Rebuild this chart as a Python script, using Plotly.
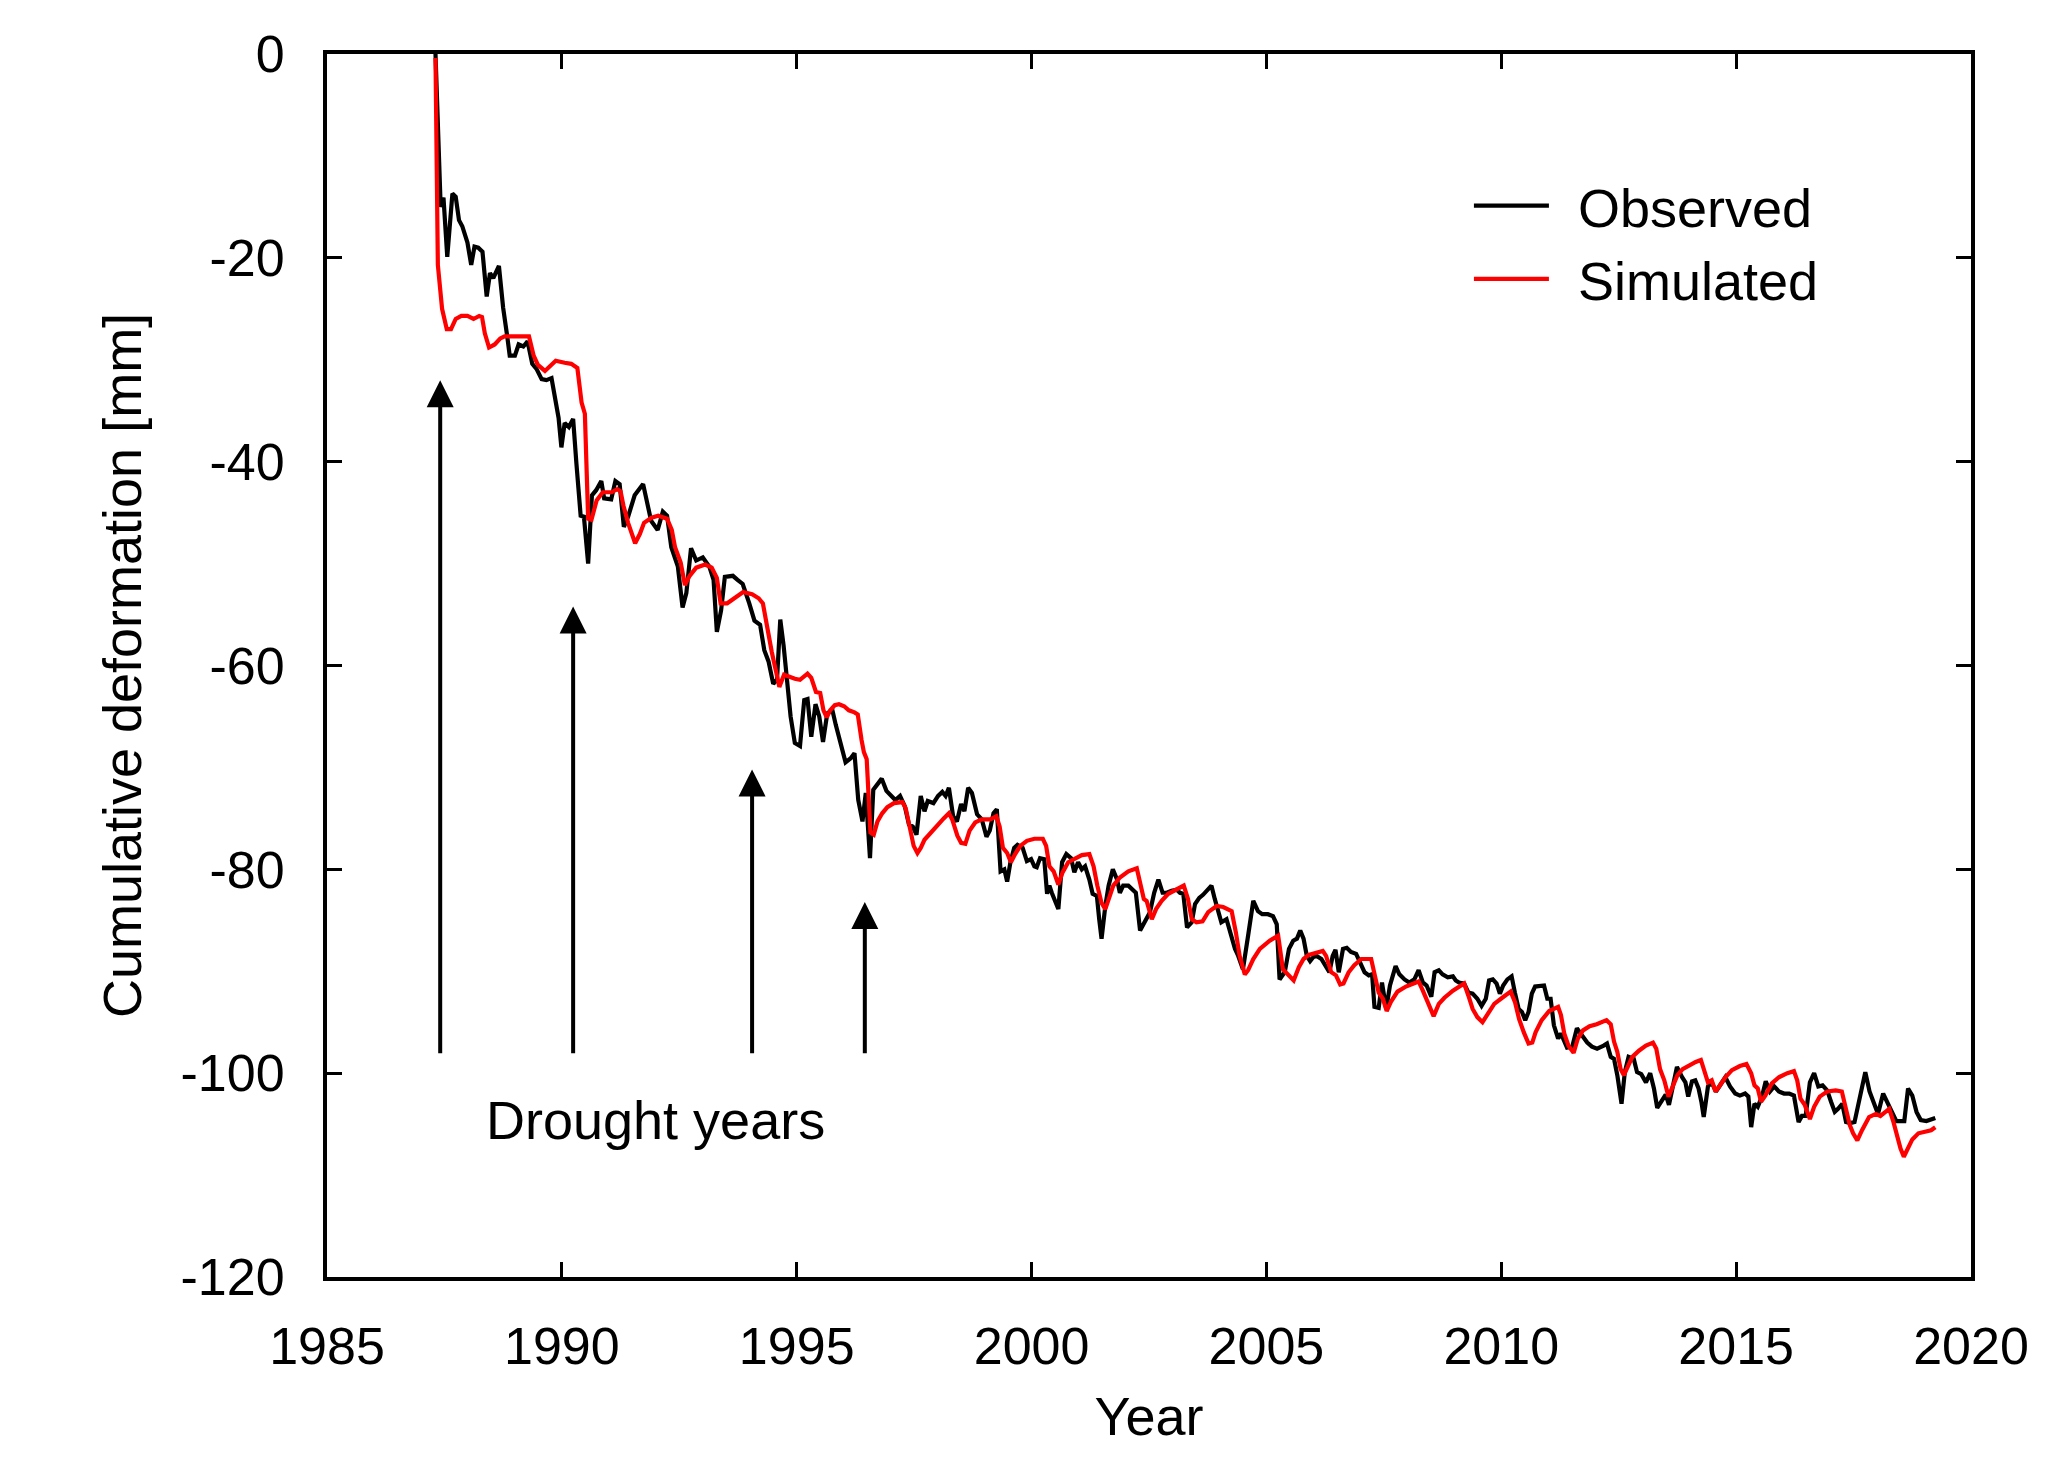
import plotly.graph_objects as go

# ---------------- data ----------------
obs_year = [1987.31, 1987.42, 1987.48, 1987.56, 1987.67, 1987.74, 1987.81, 1987.88, 1987.99, 1988.07,
            1988.14, 1988.22, 1988.31, 1988.40, 1988.47, 1988.54, 1988.66, 1988.75, 1988.84, 1988.89,
            1989.00, 1989.08, 1989.18, 1989.27, 1989.37, 1989.46, 1989.57, 1989.67, 1989.78, 1989.85,
            1989.93, 1989.99, 1990.06, 1990.15, 1990.24, 1990.31, 1990.40, 1990.47, 1990.56, 1990.64,
            1990.73, 1990.84, 1990.90, 1991.05, 1991.14, 1991.23, 1991.32, 1991.41, 1991.55, 1991.73,
            1991.90, 1992.04, 1992.15, 1992.24, 1992.33, 1992.47, 1992.57, 1992.65, 1992.75, 1992.86,
            1993.00, 1993.14, 1993.23, 1993.30, 1993.39, 1993.47, 1993.64, 1993.74, 1993.85, 1993.99,
            1994.10, 1994.22, 1994.31, 1994.40, 1994.50, 1994.58, 1994.65, 1994.72, 1994.80, 1994.87,
            1994.96, 1995.07, 1995.16, 1995.23, 1995.31, 1995.40, 1995.48, 1995.56, 1995.65, 1995.76,
            1995.83, 1995.94, 1996.04, 1996.15, 1996.23, 1996.31, 1996.40, 1996.47, 1996.56, 1996.63,
            1996.72, 1996.81, 1996.91, 1997.00, 1997.10, 1997.20, 1997.30, 1997.39, 1997.47, 1997.55,
            1997.64, 1997.72, 1997.79, 1997.91, 1998.01, 1998.10, 1998.17, 1998.24, 1998.33, 1998.41,
            1998.50, 1998.57, 1998.65, 1998.73, 1998.84, 1998.94, 1999.04, 1999.11, 1999.19, 1999.26,
            1999.34, 1999.42, 1999.48, 1999.55, 1999.63, 1999.70, 1999.81, 1999.90, 1999.99, 2000.06,
            2000.11, 2000.18, 2000.27, 2000.33, 2000.38, 2000.43, 2000.50, 2000.57, 2000.65, 2000.74,
            2000.84, 2000.91, 2000.99, 2001.07, 2001.14, 2001.23, 2001.30, 2001.39, 2001.44, 2001.49,
            2001.57, 2001.64, 2001.73, 2001.82, 2001.88, 2001.95, 2002.06, 2002.15, 2002.22, 2002.31,
            2002.41, 2002.52, 2002.61, 2002.70, 2002.79, 2002.88, 2002.98, 2003.09, 2003.16, 2003.23,
            2003.31, 2003.41, 2003.48, 2003.57, 2003.65, 2003.74, 2003.83, 2003.90, 2003.99, 2004.04,
            2004.15, 2004.23, 2004.33, 2004.40, 2004.50, 2004.61, 2004.72, 2004.82, 2004.91, 2005.03,
            2005.14, 2005.22, 2005.28, 2005.39, 2005.48, 2005.57, 2005.65, 2005.72, 2005.79, 2005.86,
            2005.93, 2006.00, 2006.07, 2006.17, 2006.26, 2006.34, 2006.41, 2006.47, 2006.54, 2006.63,
            2006.71, 2006.80, 2006.91, 2006.99, 2007.09, 2007.18, 2007.25, 2007.30, 2007.39, 2007.46,
            2007.55, 2007.63, 2007.75, 2007.83, 2007.94, 2008.04, 2008.15, 2008.24, 2008.33, 2008.41,
            2008.51, 2008.58, 2008.67, 2008.75, 2008.86, 2008.97, 2009.03, 2009.10, 2009.21, 2009.30,
            2009.39, 2009.49, 2009.58, 2009.67, 2009.74, 2009.82, 2009.90, 2009.97, 2010.04, 2010.13,
            2010.22, 2010.29, 2010.37, 2010.44, 2010.51, 2010.58, 2010.65, 2010.72, 2010.80, 2010.91,
            2010.98, 2011.05, 2011.12, 2011.21, 2011.27, 2011.40, 2011.51, 2011.61, 2011.72, 2011.83,
            2011.93, 2012.04, 2012.18, 2012.25, 2012.33, 2012.40, 2012.47, 2012.56, 2012.63, 2012.71,
            2012.82, 2012.89, 2012.98, 2013.08, 2013.17, 2013.25, 2013.32, 2013.42, 2013.50, 2013.57,
            2013.65, 2013.74, 2013.85, 2013.92, 2013.98, 2014.06, 2014.13, 2014.20, 2014.26, 2014.31,
            2014.40, 2014.48, 2014.57, 2014.66, 2014.77, 2014.87, 2014.98, 2015.08, 2015.19, 2015.26,
            2015.32, 2015.39, 2015.46, 2015.55, 2015.63, 2015.72, 2015.81, 2015.91, 2016.02, 2016.13,
            2016.23, 2016.33, 2016.40, 2016.48, 2016.57, 2016.66, 2016.75, 2016.84, 2016.94, 2017.02,
            2017.10, 2017.17, 2017.26, 2017.34, 2017.43, 2017.52, 2017.62, 2017.75, 2017.84, 2017.93,
            2018.02, 2018.13, 2018.22, 2018.31, 2018.41, 2018.52, 2018.58, 2018.66, 2018.75, 2018.84,
            2018.93, 2019.05, 2019.15, 2019.24]
obs_val = [0.0, -15.0, -14.1, -19.9, -13.7, -14.0, -16.3, -16.9, -18.5, -20.7,
           -18.9, -19.0, -19.4, -23.8, -21.5, -22.0, -20.8, -24.9, -27.8, -29.6,
           -29.6, -28.5, -28.7, -28.2, -30.4, -30.9, -31.9, -32.0, -31.8, -33.4,
           -35.7, -38.6, -36.2, -36.6, -35.8, -40.2, -45.3, -45.4, -50.0, -43.3,
           -42.8, -41.9, -43.6, -43.7, -41.9, -42.2, -46.4, -45.4, -43.3, -42.2,
           -45.8, -46.7, -44.9, -45.3, -48.4, -50.3, -54.3, -52.9, -48.5, -49.7,
           -49.4, -50.3, -51.6, -56.7, -54.6, -51.3, -51.2, -51.6, -52.0, -53.9,
           -55.6, -56.0, -58.5, -59.6, -61.8, -61.4, -55.5, -58.0, -62.1, -65.0,
           -67.6, -67.9, -63.4, -63.3, -67.0, -63.8, -65.0, -67.5, -64.7, -64.4,
           -65.8, -67.9, -69.5, -69.1, -68.6, -73.2, -75.3, -72.5, -78.9, -72.2,
           -71.7, -71.1, -72.3, -72.8, -73.2, -72.8, -73.8, -75.6, -75.8, -76.6,
           -72.8, -74.3, -73.3, -73.5, -72.8, -72.4, -72.8, -72.0, -74.8, -75.3,
           -73.6, -74.3, -72.0, -72.5, -74.6, -75.1, -76.8, -76.2, -74.5, -74.1,
           -80.2, -80.0, -81.2, -79.3, -77.9, -77.6, -77.9, -79.2, -79.0, -79.7,
           -79.8, -78.9, -79.0, -82.4, -81.6, -82.3, -83.1, -83.9, -79.3, -78.5,
           -78.9, -80.3, -79.3, -80.0, -79.7, -81.0, -82.4, -82.6, -84.9, -86.8,
           -83.6, -81.6, -80.0, -81.0, -82.3, -81.6, -81.6, -82.0, -82.3, -86.0,
           -85.1, -84.2, -82.3, -81.0, -82.3, -82.3, -82.1, -82.0, -82.3, -82.4,
           -85.7, -85.2, -83.4, -82.8, -82.5, -82.0, -81.6, -82.9, -84.4, -85.2,
           -84.9, -86.2, -87.8, -88.5, -89.8, -86.5, -83.1, -84.1, -84.4, -84.4,
           -84.6, -85.4, -90.8, -90.1, -87.8, -87.0, -86.8, -86.0, -86.8, -88.5,
           -89.0, -88.6, -88.5, -88.8, -89.6, -90.1, -88.5, -87.9, -90.1, -87.8,
           -87.7, -88.1, -88.3, -89.1, -90.1, -90.4, -90.3, -93.5, -93.6, -91.1,
           -93.7, -91.4, -89.5, -90.3, -90.8, -91.1, -90.8, -89.9, -91.1, -91.4,
           -92.5, -90.1, -89.9, -90.3, -90.6, -90.5, -90.9, -91.1, -91.2, -92.1,
           -92.2, -92.7, -93.4, -92.7, -90.9, -90.8, -91.2, -92.2, -91.4, -90.8,
           -90.5, -92.1, -93.7, -94.0, -94.8, -94.0, -92.2, -91.5, -91.5, -91.4,
           -92.7, -92.7, -95.3, -96.6, -96.1, -97.5, -97.4, -95.6, -96.3, -97.0,
           -97.4, -97.6, -97.3, -97.1, -98.4, -98.6, -100.2, -103.0, -99.9, -98.4,
           -98.6, -99.9, -100.1, -100.9, -100.0, -101.5, -103.4, -102.7, -102.1, -103.1,
           -101.2, -99.4, -100.4, -100.9, -102.3, -100.8, -100.7, -101.5, -102.8, -104.3,
           -101.3, -100.9, -101.8, -101.2, -100.4, -101.3, -102.0, -102.2, -102.0, -102.3,
           -105.3, -103.0, -103.3, -102.3, -100.8, -101.8, -101.3, -101.8, -102.0, -102.0,
           -102.2, -104.8, -104.2, -104.2, -100.9, -100.0, -101.3, -101.2, -101.7, -102.8,
           -103.8, -103.5, -103.0, -104.8, -104.9, -104.8, -102.5, -99.9, -101.8, -103.0,
           -104.0, -102.0, -102.8, -103.8, -104.7, -104.7, -104.7, -101.5, -102.2, -103.8,
           -104.6, -104.7, -104.5, -104.4]

sim_year = [1987.31, 1987.36, 1987.45, 1987.55, 1987.64, 1987.74, 1987.86, 1987.99, 1988.12, 1988.24,
            1988.30, 1988.36, 1988.45, 1988.57, 1988.69, 1988.78, 1989.02, 1989.30, 1989.40, 1989.49,
            1989.64, 1989.78, 1989.87, 1990.06, 1990.20, 1990.33, 1990.42, 1990.49, 1990.56, 1990.63,
            1990.74, 1990.87, 1991.06, 1991.18, 1991.25, 1991.31, 1991.41, 1991.56, 1991.66, 1991.75,
            1991.91, 1992.05, 1992.24, 1992.34, 1992.41, 1992.53, 1992.62, 1992.72, 1992.86, 1993.05,
            1993.19, 1993.30, 1993.38, 1993.52, 1993.66, 1993.86, 1994.05, 1994.19, 1994.28, 1994.38,
            1994.47, 1994.57, 1994.63, 1994.73, 1994.84, 1994.96, 1995.07, 1995.16, 1995.23, 1995.31,
            1995.41, 1995.50, 1995.57, 1995.64, 1995.71, 1995.81, 1995.90, 1996.01, 1996.11, 1996.23,
            1996.30, 1996.38, 1996.43, 1996.49, 1996.54, 1996.57, 1996.64, 1996.72, 1996.82, 1996.93,
            1997.07, 1997.25, 1997.32, 1997.41, 1997.49, 1997.57, 1997.64, 1997.72, 1997.85, 1997.99,
            1998.13, 1998.24, 1998.31, 1998.42, 1998.50, 1998.59, 1998.68, 1998.80, 1998.94, 1999.12,
            1999.25, 1999.32, 1999.39, 1999.48, 1999.56, 1999.65, 1999.76, 1999.90, 2000.06, 2000.24,
            2000.31, 2000.38, 2000.47, 2000.57, 2000.66, 2000.78, 2000.93, 2001.07, 2001.23, 2001.32,
            2001.40, 2001.49, 2001.57, 2001.64, 2001.74, 2001.88, 2002.06, 2002.24, 2002.31, 2002.39,
            2002.45, 2002.56, 2002.65, 2002.77, 2002.91, 2003.09, 2003.24, 2003.33, 2003.41, 2003.51,
            2003.64, 2003.76, 2003.94, 2004.08, 2004.26, 2004.35, 2004.43, 2004.54, 2004.61, 2004.72,
            2004.86, 2005.07, 2005.25, 2005.35, 2005.46, 2005.58, 2005.69, 2005.79, 2005.90, 2006.06,
            2006.20, 2006.27, 2006.38, 2006.48, 2006.57, 2006.64, 2006.75, 2006.87, 2007.02, 2007.23,
            2007.30, 2007.39, 2007.48, 2007.56, 2007.65, 2007.79, 2007.97, 2008.24, 2008.33, 2008.44,
            2008.56, 2008.67, 2008.79, 2008.97, 2009.21, 2009.30, 2009.39, 2009.49, 2009.60, 2009.71,
            2009.85, 2010.02, 2010.20, 2010.29, 2010.38, 2010.48, 2010.58, 2010.66, 2010.73, 2010.86,
            2011.02, 2011.21, 2011.27, 2011.34, 2011.43, 2011.54, 2011.63, 2011.74, 2011.88, 2012.03,
            2012.24, 2012.33, 2012.40, 2012.47, 2012.54, 2012.61, 2012.68, 2012.79, 2012.93, 2013.08,
            2013.23, 2013.30, 2013.38, 2013.47, 2013.56, 2013.65, 2013.75, 2013.86, 2014.00, 2014.14,
            2014.25, 2014.32, 2014.40, 2014.48, 2014.56, 2014.64, 2014.77, 2014.91, 2015.08, 2015.22,
            2015.32, 2015.39, 2015.46, 2015.53, 2015.62, 2015.76, 2015.91, 2016.09, 2016.23, 2016.30,
            2016.37, 2016.46, 2016.57, 2016.66, 2016.78, 2016.94, 2017.12, 2017.25, 2017.33, 2017.42,
            2017.49, 2017.58, 2017.68, 2017.83, 2017.97, 2018.07, 2018.18, 2018.26, 2018.35, 2018.42,
            2018.50, 2018.57, 2018.66, 2018.75, 2018.88, 2019.02, 2019.15, 2019.24]
sim_val = [-0.4, -20.7, -25.0, -27.0, -27.0, -26.0, -25.7, -25.7, -26.0, -25.7,
           -25.8, -27.4, -28.8, -28.5, -27.9, -27.7, -27.7, -27.7, -29.6, -30.5,
           -31.1, -30.4, -30.1, -30.3, -30.4, -30.8, -34.2, -35.3, -45.6, -45.7,
           -43.8, -43.0, -43.0, -42.7, -42.9, -44.3, -46.0, -48.0, -47.1, -46.0,
           -45.5, -45.3, -45.6, -46.7, -48.4, -49.9, -52.1, -51.2, -50.4, -50.1,
           -50.4, -51.4, -53.9, -53.9, -53.4, -52.8, -53.0, -53.4, -53.9, -56.5,
           -58.7, -60.8, -62.1, -60.9, -61.1, -61.3, -61.4, -61.0, -60.8, -61.2,
           -62.6, -62.7, -64.4, -65.1, -64.4, -63.9, -63.8, -64.0, -64.4, -64.6,
           -64.8, -67.3, -68.5, -69.2, -74.5, -76.4, -76.6, -75.3, -74.5, -73.9,
           -73.5, -73.4, -74.0, -76.1, -77.7, -78.4, -77.9, -77.1, -76.4, -75.8,
           -75.0, -74.5, -75.1, -76.7, -77.4, -77.5, -76.2, -75.4, -75.1, -75.1,
           -74.8, -75.8, -77.9, -78.4, -79.3, -78.5, -77.7, -77.2, -77.0, -77.0,
           -77.7, -79.7, -80.2, -81.5, -80.3, -79.3, -78.9, -78.6, -78.5, -79.7,
           -81.6, -83.3, -83.9, -82.9, -81.6, -80.8, -80.2, -79.9, -81.3, -82.9,
           -83.1, -84.9, -83.9, -83.1, -82.4, -82.0, -81.6, -82.9, -84.9, -85.2,
           -85.1, -84.2, -83.6, -83.7, -84.1, -86.2, -88.5, -90.3, -89.9, -88.8,
           -87.8, -87.0, -86.5, -89.8, -90.3, -90.9, -89.6, -88.8, -88.4, -88.2,
           -88.0, -88.5, -90.1, -90.4, -91.3, -91.2, -90.1, -89.4, -88.8, -88.8,
           -90.4, -92.1, -92.7, -93.9, -93.0, -92.0, -91.5, -91.0, -91.9, -93.2,
           -94.4, -93.2, -92.6, -91.9, -91.2, -92.4, -93.7, -94.5, -95.0, -94.2,
           -93.2, -92.6, -92.0, -93.0, -94.7, -96.0, -97.1, -97.0, -96.0, -94.8,
           -93.9, -93.5, -94.3, -96.1, -97.3, -98.0, -96.6, -95.8, -95.4, -95.2,
           -94.8, -95.2, -96.9, -97.9, -99.6, -100.2, -99.4, -98.4, -97.8, -97.3,
           -97.0, -97.6, -99.6, -100.7, -102.3, -101.3, -100.2, -99.6, -99.2, -98.9,
           -98.7, -99.9, -100.9, -100.7, -101.8, -101.3, -100.4, -99.7, -99.3, -99.1,
           -100.0, -101.2, -101.5, -102.8, -102.2, -101.0, -100.4, -100.0, -99.8, -100.7,
           -102.5, -103.1, -104.5, -103.3, -102.3, -101.8, -101.7, -101.8, -103.5, -105.1,
           -105.9, -106.6, -105.6, -104.3, -104.0, -104.2, -103.8, -103.5, -104.8, -106.2,
           -107.4, -108.2, -107.4, -106.5, -105.9, -105.7, -105.6, -105.3]

drought_year = [1987.41, 1990.24, 1994.05, 1996.45]
drought_tip = [-32.0, -54.2, -70.2, -83.2]
drought_base = -98.2
drought_label = "Drought years"

x_ticks = [1985, 1990, 1995, 2000, 2005, 2010, 2015, 2020]
y_ticks = [0, -20, -40, -60, -80, -100, -120]
y_ticktext = ["0", "-20", "-40", "-60", "-80", "-100", "-120"]

FONT = "Liberation Sans, Arial, sans-serif"
PAD = "\u00a0\u2006"

fig = go.Figure()
fig.add_trace(go.Scatter(x=obs_year, y=obs_val, mode="lines", name=PAD + "Observed",
                         line=dict(color="black", width=4.2)))
fig.add_trace(go.Scatter(x=sim_year, y=sim_val, mode="lines", name=PAD + "Simulated",
                         line=dict(color="#ff0000", width=4.2)))

for xv, tip in zip(drought_year, drought_tip):
    fig.add_annotation(x=xv, y=tip, ax=xv, ay=drought_base, xref="x", yref="y",
                       axref="x", ayref="y", text="", showarrow=True,
                       arrowhead=2, arrowsize=1.35, arrowwidth=4, arrowcolor="black",
                       standoff=0)

fig.add_annotation(x=1991.99, y=-104.6, xref="x", yref="y", text=drought_label,
                   showarrow=False, font=dict(size=54, color="black", family=FONT))

axis_common = dict(showline=True, linecolor="black", linewidth=4, mirror="ticks",
                   ticks="inside", ticklen=15, tickwidth=3, tickcolor="black",
                   showgrid=False, zeroline=False,
                   tickfont=dict(size=52, color="black", family=FONT))

fig.update_xaxes(range=[1985, 2020], tickvals=x_ticks, ticklabelstandoff=21,
                 title=dict(text="Year", font=dict(size=54, color="black", family=FONT), standoff=24),
                 **axis_common)
fig.update_yaxes(range=[-120, 0], tickvals=y_ticks, ticktext=y_ticktext, ticklabelstandoff=28,
                 title=dict(text="Cumulative deformation [mm]",
                            font=dict(size=54, color="black", family=FONT), standoff=23),
                 **axis_common)

fig.update_layout(
    width=2070, height=1464,
    margin=dict(l=327, r=99, t=54, b=187),
    paper_bgcolor="white", plot_bgcolor="white",
    font=dict(family=FONT, color="black"),
    showlegend=True,
    legend=dict(x=0.6946, y=0.910, xanchor="left", yanchor="top",
                font=dict(size=54, color="black", family=FONT),
                bgcolor="rgba(0,0,0,0)", borderwidth=0, itemwidth=75,
                tracegroupgap=0),
)

fig.write_html("out.html")
